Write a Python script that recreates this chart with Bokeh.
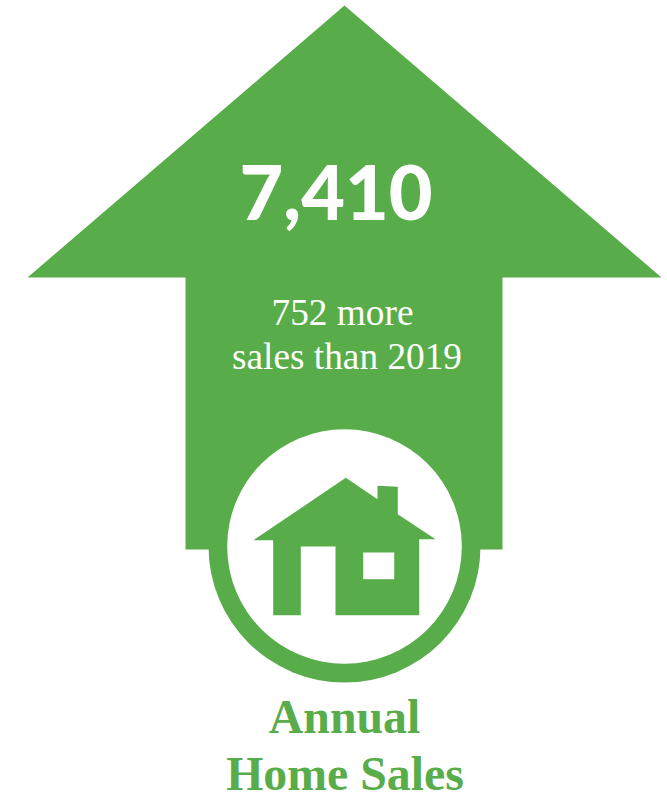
from bokeh.plotting import figure
from bokeh.models import Range1d
from bokeh.core.properties import value
from bokeh.embed import file_html
from bokeh.resources import INLINE

GREEN = "#58AD4A"

W, H = 667, 799

# Text content
headline_value = 7410
difference_value = 752
compare_year = 2019
title_lines = ["Annual", "Home Sales"]

# Pictogram outlines
arrow_x = [344, 661, 502, 502, 185, 185, 27]
arrow_y = [5, 277, 277, 549, 549, 277, 277]
ring_cx, ring_cy = 344, 546
ring_outer_r, ring_inner_r = 136, 117.3
house_x = [345.3, 377, 377, 397.3, 397.3, 435, 418.7, 418.7, 335, 335, 300.3, 300.3, 272.7, 272.7, 253]
house_y = [477.3, 498.7, 485.3, 486.3, 513.7, 538.7, 538.7, 614.7, 614.7, 546, 546, 614.7, 614.7, 539.7, 539.7]
window_x = [362.7, 393.7, 393.7, 362.7]
window_y = [552, 552, 578.7, 578.7]

p = figure(width=W, height=H, output_backend="svg", toolbar_location=None,
           x_range=Range1d(0, W), y_range=Range1d(H, 0),
           min_border=0, outline_line_color=None, background_fill_color="white",
           border_fill_color="white")
p.axis.visible = False
p.grid.visible = False

p.circle([ring_cx], [ring_cy], radius=ring_outer_r, fill_color=GREEN, line_color=None)
p.patch(arrow_x, arrow_y, fill_color=GREEN, line_color=None)
p.circle([ring_cx], [ring_cy], radius=ring_inner_r, fill_color="white", line_color=None)
p.patch(house_x, house_y, fill_color=GREEN, line_color=None)
p.patch(window_x, window_y, fill_color="white", line_color=None)

p.text([335.5], [191.5], text=[f"{headline_value:,}"], text_font=value("Lato Black"),
       text_font_style="bold", text_font_size="75.5px", text_color="white",
       text_align="center", text_baseline="alphabetic")
p.text([342, 346.5], [311.5, 355.5],
       text=[f"{difference_value} more", f"sales than {compare_year}"],
       text_font=value("Liberation Serif"), text_font_size="37.3px", text_color="white",
       text_align="center", text_baseline="alphabetic")
p.text([344, 344.5], [716, 773], text=title_lines,
       text_font=value("Liberation Serif"), text_font_style="bold", text_font_size="47.8px",
       text_color=GREEN, text_align="center", text_baseline="alphabetic")

open("out.html", "w").write(file_html(p, INLINE))
